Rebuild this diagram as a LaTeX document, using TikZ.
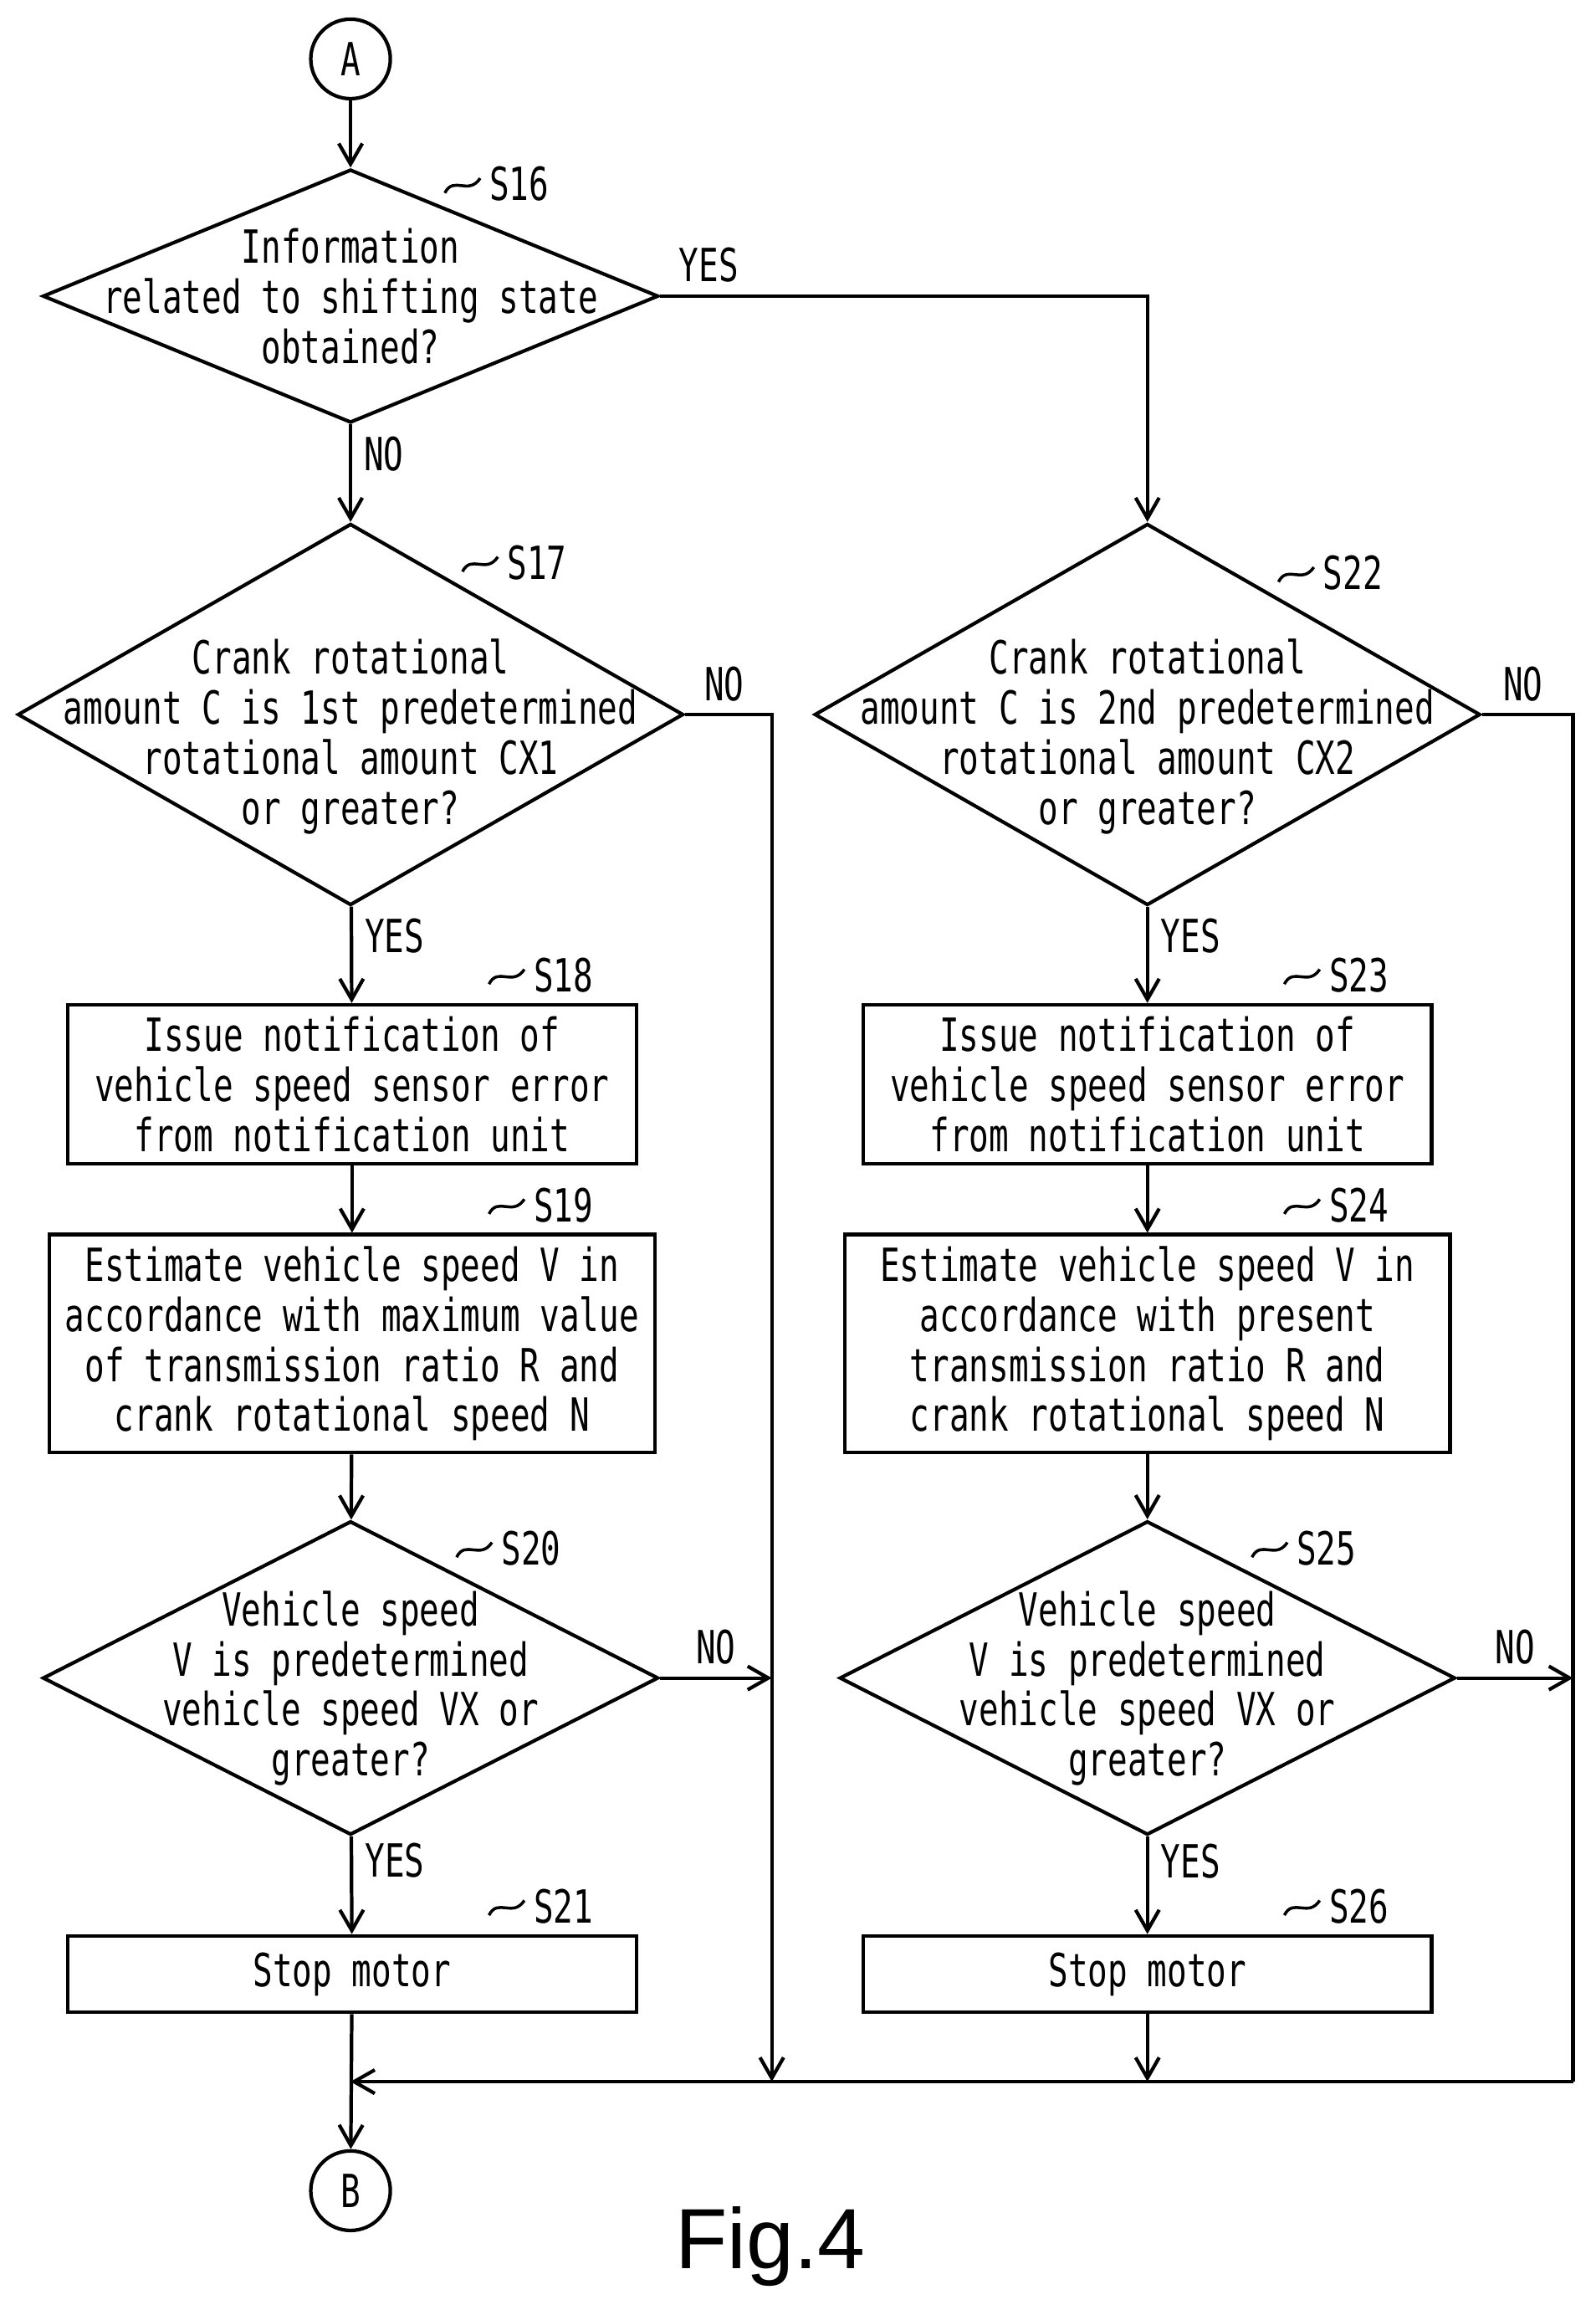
\documentclass[tikz,border=0pt]{standalone}
\usepackage{fontspec}
\setmainfont{DejaVu Sans Mono}[FakeStretch=0.72]
\newfontfamily\figfont{Liberation Sans}
\usetikzlibrary{shapes.geometric,arrows.meta}
\tikzset{
  flow/.style={line width=1.2pt,-{Straight Barb[length=7pt,width=8pt]}},
  line/.style={line width=1.2pt},
  dec/.style={diamond,draw,line width=1.2pt,inner sep=0pt,aspect=2.3},
  box/.style={rectangle,draw,line width=1.2pt,inner sep=0pt},
  txt/.style={align=center,font=\fontsize{15.5}{17}\selectfont,inner sep=0pt},
  conn/.style={circle,draw,line width=1.2pt,minimum size=27pt,inner sep=0pt,font=\fontsize{15.5}{17}\selectfont},
  lab/.style={font=\fontsize{15.5}{17}\selectfont,inner sep=4pt}
}
\newcommand{\steplab}[2]{% tilde + step number
  \draw[line width=1pt] ($#1+(-28,6)$) .. controls ($#1+(-22,-6)$) and ($#1+(-12,8)$) .. ($#1+(-4,-4)$);
  \node[lab,anchor=west,inner sep=1pt] at #1 {#2};}
\usetikzlibrary{calc}
\begin{document}
\begin{tikzpicture}[x=0.5pt,y=-0.5pt]
\useasboundingbox (0,0) rectangle (1083,1568);

% connectors A and B
\node[conn] (A) at (238,40) {A};
\node[conn] (B) at (238,1487) {B};

% decisions
\node[dec,minimum width=418pt*0.5,minimum height=172pt*0.5] (s16) at (238,201) {};
\node[txt] at (238,201) {Information\\related to shifting state\\obtained?};
\node[dec,minimum width=452pt*0.5,minimum height=259pt*0.5] (s17) at (238,485) {};
\node[txt] at (238,500) {Crank rotational\\amount C is 1st predetermined\\rotational amount CX1\\or greater?};
\node[dec,minimum width=452pt*0.5,minimum height=259pt*0.5] (s22) at (779,485) {};
\node[txt] at (779,500) {Crank rotational\\amount C is 2nd predetermined\\rotational amount CX2\\or greater?};
\node[dec,minimum width=418pt*0.5,minimum height=213pt*0.5] (s20) at (238,1139) {};
\node[txt] at (238,1146) {Vehicle speed\\V is predetermined\\vehicle speed VX or\\greater?};
\node[dec,minimum width=418pt*0.5,minimum height=213pt*0.5] (s25) at (779,1139) {};
\node[txt] at (779,1146) {Vehicle speed\\V is predetermined\\vehicle speed VX or\\greater?};

% processes
\node[box,minimum width=386pt*0.5,minimum height=108pt*0.5] (s18) at (239,736) {};
\node[txt] at (239,736) {Issue notification of\\vehicle speed sensor error\\from notification unit};
\node[box,minimum width=411pt*0.5,minimum height=148pt*0.5] (s19) at (239,912) {};
\node[txt] at (239,912) {Estimate vehicle speed V in\\accordance with maximum value\\of transmission ratio R and\\crank rotational speed N};
\node[box,minimum width=386pt*0.5,minimum height=52pt*0.5] (s21) at (239,1340) {};
\node[txt] at (239,1340) {Stop motor};
\node[box,minimum width=386pt*0.5,minimum height=108pt*0.5] (s23) at (779,736) {};
\node[txt] at (779,736) {Issue notification of\\vehicle speed sensor error\\from notification unit};
\node[box,minimum width=411pt*0.5,minimum height=148pt*0.5] (s24) at (779,912) {};
\node[txt] at (779,912) {Estimate vehicle speed V in\\accordance with present\\transmission ratio R and\\crank rotational speed N};
\node[box,minimum width=386pt*0.5,minimum height=52pt*0.5] (s26) at (779,1340) {};
\node[txt] at (779,1340) {Stop motor};

% step labels
\steplab{(330,125)}{S16}
\steplab{(342,382)}{S17}
\steplab{(896,389)}{S22}
\steplab{(360,662)}{S18}
\steplab{(900,662)}{S23}
\steplab{(360,818)}{S19}
\steplab{(900,818)}{S24}
\steplab{(338,1051)}{S20}
\steplab{(878,1051)}{S25}
\steplab{(360,1294)}{S21}
\steplab{(900,1294)}{S26}

% left column
\draw[flow] (A) -- (s16);
\draw[flow] (s16) -- node[lab,right,pos=0.3] {NO} (s17);
\draw[flow] (s17) -- node[lab,right,pos=0.3] {YES} (s18);
\draw[flow] (s18) -- (s19);
\draw[flow] (s19) -- (s20);
\draw[flow] (s20) -- node[lab,right,pos=0.25] {YES} (s21);
\draw[flow] (s21) -- (B);

% right column
\draw[flow] (s16.east) -- (779,201) node[lab,pos=0.1,above] {YES} -- (s22.north);
\draw[flow] (s22) -- node[lab,right,pos=0.3] {YES} (s23);
\draw[flow] (s23) -- (s24);
\draw[flow] (s24) -- (s25);
\draw[flow] (s25) -- node[lab,right,pos=0.25] {YES} (s26);

% NO branches and merge
\coordinate (mL) at (524,1413);
\coordinate (mR) at (1068,1413);
\draw[flow] (s17.east) -- (524,485) node[lab,pos=0.45,above] {NO} -- (mL);
\draw[flow] (s20.east) -- node[lab,above,pos=0.5] {NO} (524,1139);
\draw[line] (s22.east) -- (1068,485) node[lab,pos=0.45,above] {NO} -- (mR);
\draw[flow] (s25.east) -- node[lab,above,pos=0.5] {NO} (1068,1139);
\draw[flow] (s26) -- (779,1413);
\draw[flow] (mR) -- (238,1413);

\node[font=\figfont\fontsize{29}{32}\selectfont] (fig) at (523,1525) {Fig.4};
\end{tikzpicture}
\end{document}
